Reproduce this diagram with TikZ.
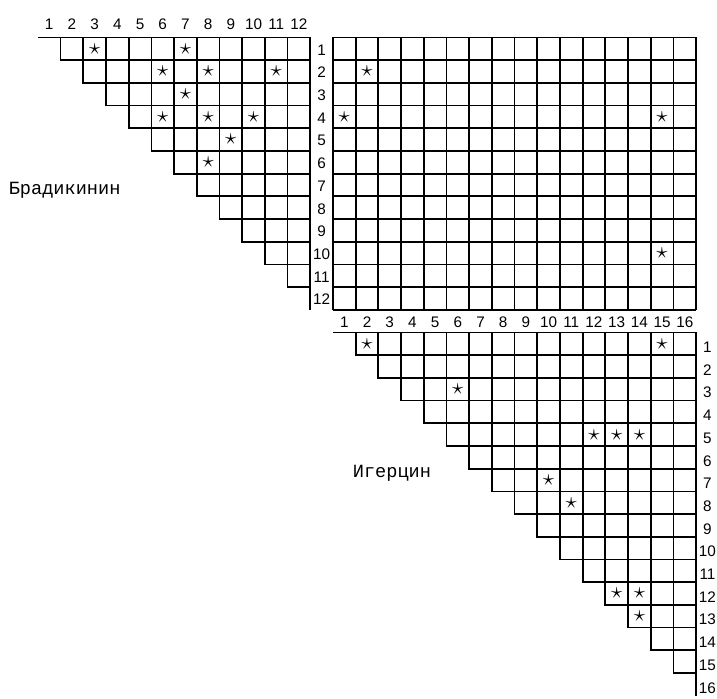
\documentclass[tikz,border=0pt]{standalone}
\usepackage{fontspec}
\setsansfont{Liberation Sans}
\newfontfamily\rotulo{Liberation Mono}
\begin{document}
\begin{tikzpicture}[x=0.6cm, y=0.6cm, line width=1.3pt,
    num/.style={font=\sffamily\fontsize{11.5}{12}\selectfont, inner sep=0pt},
    marca/.style={font=\fontsize{16}{16}\selectfont, inner sep=0pt},
    nombre/.style={font=\rotulo\fontsize{14}{16}\selectfont, anchor=west, inner sep=0pt}]
    \useasboundingbox (-14.67,1.65) rectangle (16.92,-29.14);

    % Bradikinina contra sí misma: sólo la parte sobre la diagonal.
    \foreach \i in {1,...,11}
        \foreach \j in {\i,...,11}
            \draw (-13+\j,1-\i) rectangle ++(1,-1);
    \draw (-13,0) -- (-1,0) -- (-1,-12);

    % Bradikinina contra igercina: la tabla completa.
    \draw[step=1] (0,0) grid (16,-12);

    % Igercina contra sí misma.
    \foreach \i in {1,...,15}
        \foreach \j in {\i,...,15}
            \draw (\j,-12-\i) rectangle ++(1,-1);
    \draw (0,-13) -- (16,-13) -- (16,-29);

    % Numeración de filas y columnas.
    \foreach \k in {1,...,12} {
        \node[num] (ca\k) at (-13.5+\k,0.6) {\k};
        \node[num] (fa\k) at (-0.5,0.45-\k) {\k};
    }
    \foreach \k in {1,...,16} {
        \node[num] (cb\k) at (\k-0.5,-12.55) {\k};
        \node[num] (fb\k) at (16.5,-12.65-\k) {\k};
    }

    % Coincidencias marcadas con estrellas.
    \foreach \i/\j in {1/3, 1/7, 2/6, 2/8, 2/11, 3/7, 4/6, 4/8, 4/10, 5/9, 6/8}
        \node[marca] (ea\i-\j) at (-13.5+\j,0.5-\i) {$\star$};
    \foreach \i/\j in {2/2, 4/1, 4/15, 10/15}
        \node[marca] (er\i-\j) at (\j-0.5,0.5-\i) {$\star$};
    \foreach \i/\j in {1/2, 1/15, 3/6, 5/12, 5/13, 5/14, 7/10, 8/11, 12/13, 12/14, 13/14}
        \node[marca] (eb\i-\j) at (\j-0.5,-12.5-\i) {$\star$};

    \node[nombre] (bradi) at (-14.32,-6.72) {Брадикинин};
    \node[nombre] (igerc) at (0.84,-19.19) {Игерцин};
\end{tikzpicture}
\end{document}
